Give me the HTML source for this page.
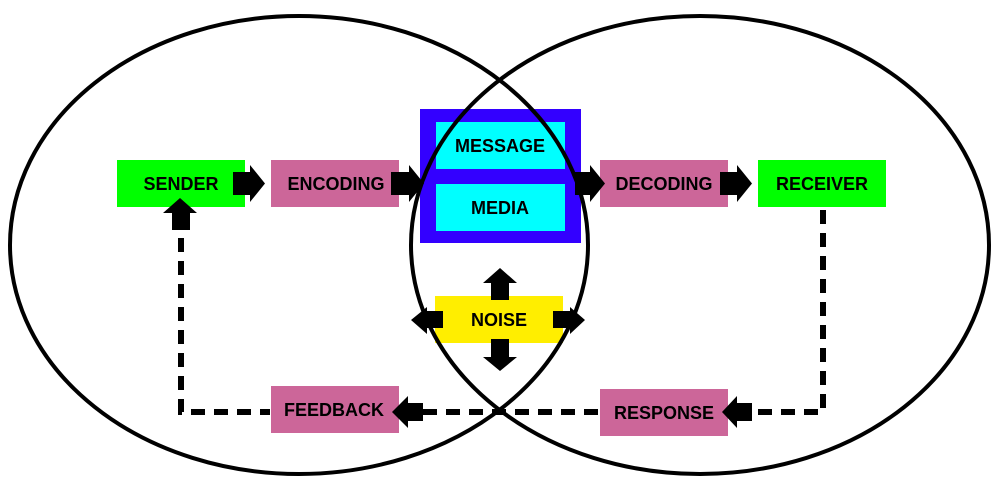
<!DOCTYPE html>
<html><head><meta charset="utf-8"><style>
html,body{margin:0;padding:0;background:#fff;}
svg{display:block;}
text{font-family:"Liberation Sans",sans-serif;font-weight:bold;font-size:18px;fill:#000;text-anchor:middle;dominant-baseline:central;}
</style></head><body>
<svg width="1000" height="485" viewBox="0 0 1000 485" xmlns="http://www.w3.org/2000/svg">
<g stroke="#000" stroke-width="6" stroke-dasharray="14,9" fill="none">
<polyline points="181,238 181,412 270,412"/>
<line x1="423" y1="412" x2="600" y2="412"/>
<polyline points="823,210 823,412 752,412"/>
</g>
<rect x="117" y="160" width="128" height="47" fill="#00ff00"/>
<rect x="271" y="160" width="128" height="47" fill="#cc6699"/>
<rect x="420" y="109" width="161" height="134" fill="#3300ff"/>
<rect x="436" y="122" width="129" height="47" fill="#00ffff"/>
<rect x="436" y="184" width="129" height="47" fill="#00ffff"/>
<rect x="600" y="160" width="128" height="47" fill="#cc6699"/>
<rect x="758" y="160" width="128" height="47" fill="#00ff00"/>
<rect x="435" y="296" width="128" height="47" fill="#ffee00"/>
<rect x="271" y="386" width="128" height="47" fill="#cc6699"/>
<rect x="600" y="389" width="128" height="47" fill="#cc6699"/>
<ellipse cx="299" cy="245" rx="289" ry="229" fill="none" stroke="#000" stroke-width="4"/>
<ellipse cx="700" cy="245" rx="289" ry="229" fill="none" stroke="#000" stroke-width="4"/>
<g fill="#000">
<polygon points="233,172 250,172 250,165 265,183.5 250,202 250,195 233,195"/>
<polygon points="391,172 409,172 409,165 424,183.5 409,202 409,195 391,195"/>
<polygon points="575,172 590,172 590,165 605,183.5 590,202 590,195 575,195"/>
<polygon points="720,172 737,172 737,165 752,183.5 737,202 737,195 720,195"/>
<polygon points="172,230 172,213 163,213 180,198 197,213 190,213 190,230"/>
<polygon points="491,300 491,283 483,283 500,268 517,283 509,283 509,300"/>
<polygon points="491,339 491,357 483,357 500,371 517,357 509,357 509,339"/>
<polygon points="443,311 427,311 427,307 411,320 427,334 427,328 443,328"/>
<polygon points="553,311 570,311 570,307 585,320 570,334 570,328 553,328"/>
<polygon points="423,403 408,403 408,396 392,412 408,428 408,421 423,421"/>
<polygon points="752,403 737,403 737,396 722,412 737,428 737,421 752,421"/>
</g>
<text x="181" y="184">SENDER</text>
<text x="336" y="184">ENCODING</text>
<text x="500" y="146">MESSAGE</text>
<text x="500" y="208">MEDIA</text>
<text x="664" y="184">DECODING</text>
<text x="822" y="184">RECEIVER</text>
<text x="499" y="320">NOISE</text>
<text x="334" y="410">FEEDBACK</text>
<text x="664" y="413">RESPONSE</text>
</svg>
</body></html>
